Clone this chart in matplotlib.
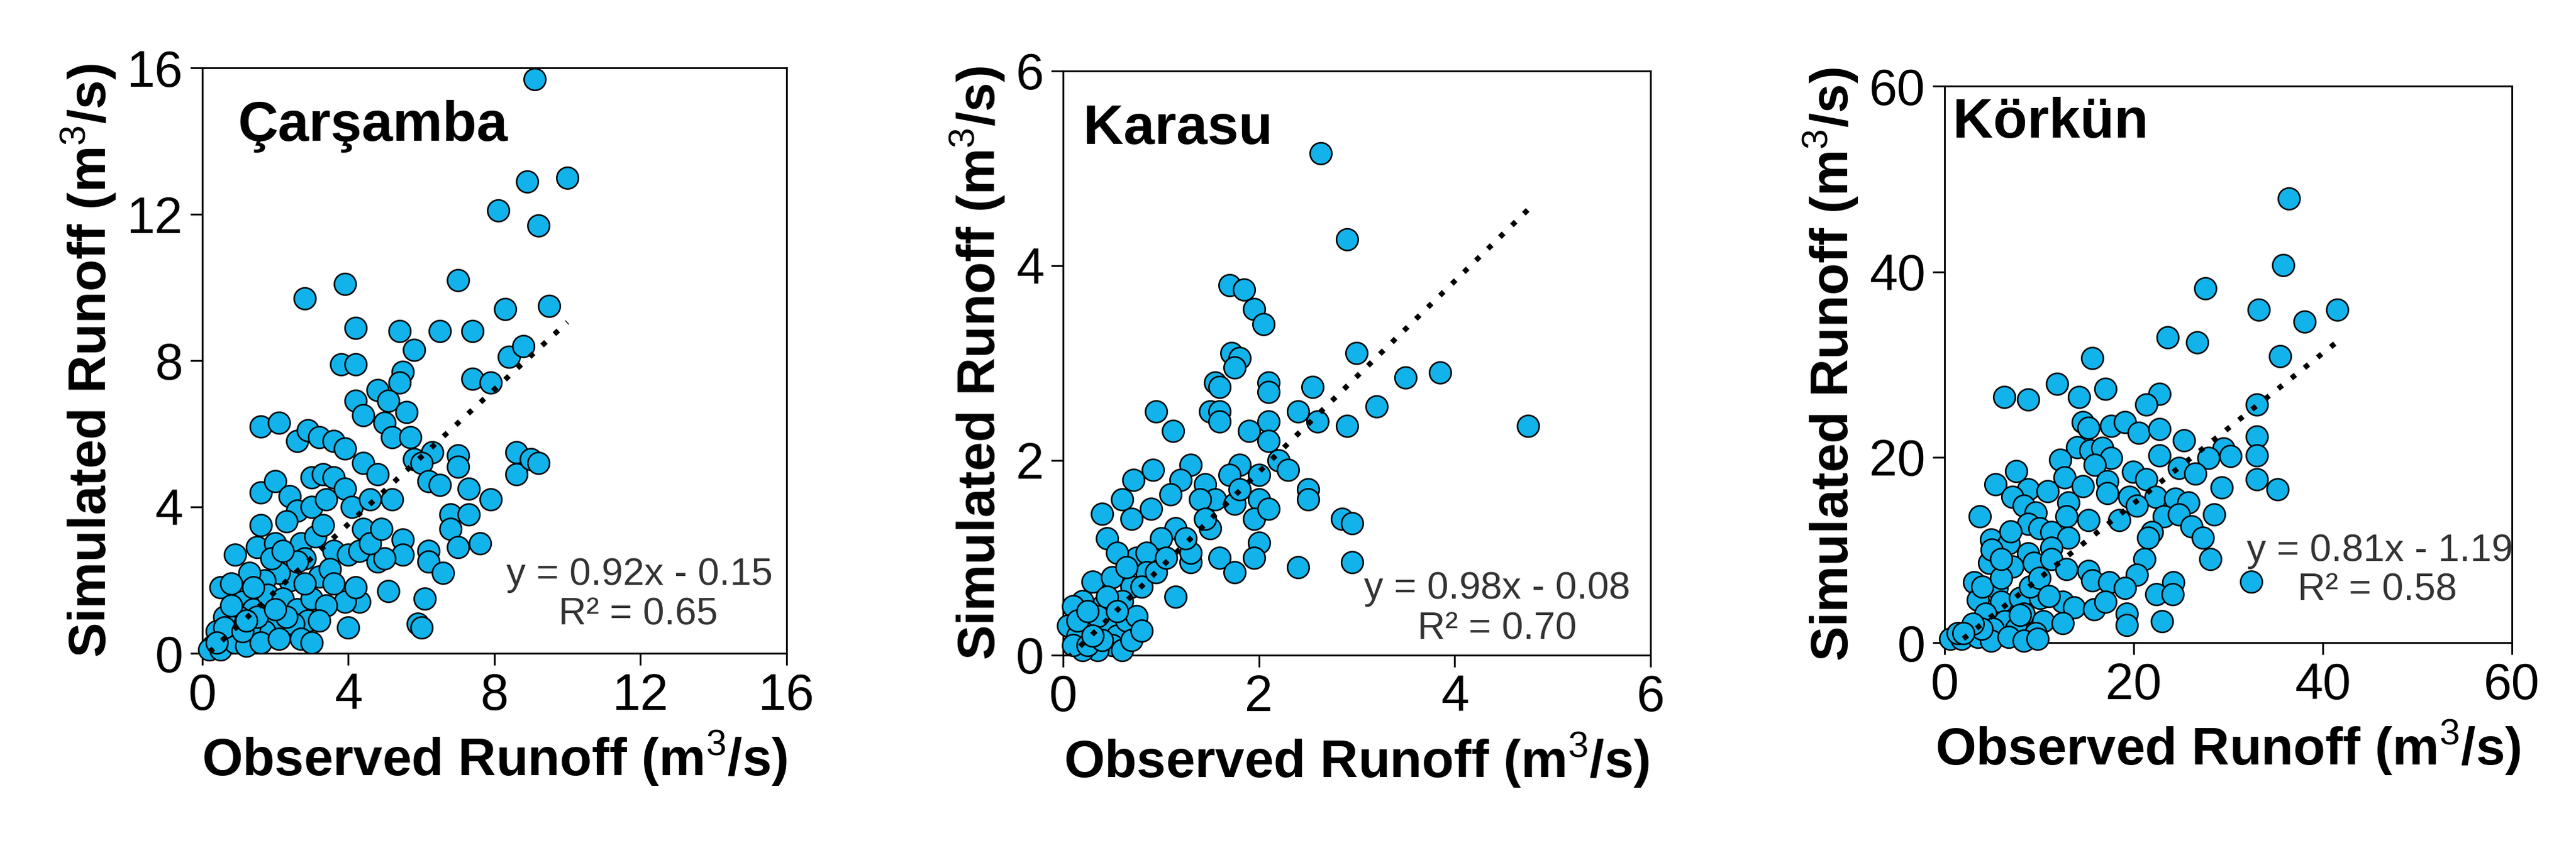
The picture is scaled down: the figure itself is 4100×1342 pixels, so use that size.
import numpy as np
import matplotlib
matplotlib.use("Agg")
import matplotlib.pyplot as plt

plt.rcParams['font.family'] = ['Liberation Sans', 'DejaVu Sans']
plt.rcParams['mathtext.fontset'] = 'custom'
plt.rcParams['mathtext.rm'] = 'Liberation Sans'
plt.rcParams['mathtext.bf'] = 'Liberation Sans:bold'

names = ["Çarşamba", "Karasu", "Körkün"]
equations = ["y = 0.92x - 0.15", "y = 0.98x - 0.08", "y = 0.81x - 1.19"]
r2_labels = ["R² = 0.65", "R² = 0.70", "R² = 0.58"]
slopes = [0.92, 0.98, 0.81]
intercepts = [-0.15, -0.08, -1.19]
axis_max = [16, 6, 60]
tick_vals = [[0, 4, 8, 12, 16], [0, 2, 4, 6], [0, 20, 40, 60]]

pts1 = [(9.1,15.7),(10,13),(8.9,12.9),(9.2,11.7),(8.1,12.1),(2.8,9.7),(3.9,10.1),(7.0,10.2),(8.3,9.4),(9.5,9.5),(4.2,8.9),(5.4,8.8),(6.5,8.8),(7.4,8.8),(5.8,8.3),(3.8,7.9),(4.2,7.9),(5.5,7.7),(5.4,7.4),(7.4,7.5),(7.9,7.4),(8.4,8.1),(8.8,8.4),(4.8,7.2),(5.1,6.9),(4.2,6.9),(4.4,6.5),(5.6,6.6),(5.0,6.3),(5.2,5.9),(5.7,5.9),(6.3,5.5),(5.8,5.3),(6.0,5.2),(7.0,5.4),(7.0,5.1),(8.6,5.5),(8.6,4.9),(9.0,5.3),(9.2,5.2),(1.6,6.2),(2.1,6.3),(2.6,5.8),(2.9,6.1),(3.2,5.9),(3.6,5.8),(3.9,5.6),(4.4,5.2),(4.8,4.9),(5.2,4.2),(6.2,4.7),(6.5,4.6),(7.3,4.5),(7.9,4.2),(6.8,3.8),(7.3,3.8),(6.8,3.4),(7.0,2.9),(7.6,3.0),(5.5,3.1),(5.5,2.7),(6.2,2.8),(6.2,2.5),(6.6,2.2),(6.1,1.5),(5.9,0.8),(6.0,0.7),(4.0,0.7),(1.6,4.4),(2.0,4.7),(2.4,4.3),(2.6,3.9),(3.0,4.8),(3.3,4.9),(3.6,4.8),(3.9,4.5),(4.1,4.0),(4.4,3.4),(4.6,4.2),(1.6,3.5),(1.5,2.9),(2.0,3.0),(2.3,3.6),(2.7,3.0),(3.1,3.2),(3.3,3.5),(3.6,2.8),(4.0,2.7),(4.3,2.8),(4.8,2.5),(5.0,2.6),(5.1,1.7),(4.3,1.4),(3.9,1.4),(4.2,1.8),(3.2,2.1),(2.8,2.6),(2.4,2.0),(2.1,2.2),(1.7,2.0),(1.3,2.2),(0.9,2.7),(0.5,1.8),(0.8,1.9),(1.1,1.4),(1.4,1.2),(1.8,1.6),(2.2,1.5),(2.6,1.2),(3.0,1.5),(3.4,1.3),(2.9,0.9),(2.5,0.8),(2.0,0.9),(1.7,0.6),(1.3,0.7),(1.0,1.0),(0.6,1.0),(0.4,0.6),(0.7,0.4),(0.3,0.2),(0.2,0.1),(0.5,0.1),(0.9,0.3),(1.2,0.2),(1.6,0.3),(2.1,0.4),(2.7,0.4),(3.0,0.3),(3.2,0.9),(3.5,2.3),(2.6,2.5),(1.9,2.6),(0.6,0.7),(1.1,0.6),(2.3,1.0),(2.8,1.9),(3.6,1.9),(4.6,3.0),(4.9,3.4),(1.4,1.8),(0.8,1.3),(0.4,0.3),(1.5,1.0),(2.0,1.2),(3.0,4.0),(3.4,4.2),(2.2,2.8),(1.2,0.9)]

pts2 = [(2.63,5.15),(2.9,4.27),(1.7,3.8),(1.85,3.75),(1.95,3.55),(2.05,3.4),(1.72,3.1),(1.8,3.05),(1.75,2.95),(1.55,2.8),(1.6,2.75),(2.1,2.8),(2.1,2.7),(1.5,2.5),(1.6,2.5),(1.6,2.4),(2.1,2.4),(2.55,2.75),(2.4,2.5),(2.6,2.4),(3.0,3.1),(3.5,2.85),(3.85,2.9),(3.2,2.55),(4.75,2.35),(2.9,2.35),(0.95,2.5),(1.12,2.3),(1.9,2.3),(2.1,2.2),(2.2,2.0),(1.8,1.95),(1.3,1.95),(1.2,1.8),(0.92,1.9),(0.72,1.8),(0.6,1.6),(0.7,1.4),(0.4,1.45),(0.45,1.2),(0.75,1.0),(0.9,1.5),(1.1,1.65),(1.45,1.75),(1.55,1.6),(1.7,1.85),(1.75,1.55),(2.0,1.6),(2.0,1.85),(2.3,1.9),(2.5,1.7),(2.5,1.6),(1.95,1.4),(2.1,1.5),(2.0,1.15),(1.5,1.3),(1.15,1.3),(1.4,1.6),(1.6,1.0),(1.95,1.0),(2.85,1.4),(2.95,1.35),(2.4,0.9),(2.95,0.95),(1.75,0.85),(1.3,0.95),(1.0,1.2),(0.85,1.05),(0.55,1.05),(0.85,0.85),(0.7,0.7),(1.15,0.6),(0.3,0.75),(0.5,0.8),(0.6,0.55),(0.4,0.5),(0.2,0.55),(0.1,0.5),(0.05,0.3),(0.15,0.2),(0.3,0.3),(0.45,0.3),(0.55,0.2),(0.65,0.35),(0.75,0.4),(0.5,0.1),(0.35,0.05),(0.2,0.05),(0.1,0.1),(0.25,0.1),(0.6,0.05),(0.8,0.7),(0.95,0.85),(1.3,1.05),(1.05,1.0),(0.65,0.9),(0.35,0.4),(0.15,0.35),(0.25,0.45),(0.4,0.15),(0.7,0.15),(0.3,0.2),(0.45,0.6),(1.45,1.4),(1.8,1.7),(1.25,1.2),(0.55,0.45),(0.8,0.25)]

pts3 = [(36.4,47.9),(35.8,40.7),(27.6,38.2),(33.2,35.9),(41.5,35.9),(38.1,34.6),(23.6,32.9),(26.7,32.4),(35.5,30.9),(15.6,30.7),(11.9,27.9),(17.0,27.4),(6.3,26.5),(8.8,26.2),(14.2,26.5),(22.7,26.8),(21.3,25.7),(33.0,25.7),(14.6,23.8),(15.2,23.2),(17.6,23.4),(19.1,23.8),(20.5,22.6),(22.7,23.0),(25.3,21.8),(33.0,22.2),(29.5,20.9),(30.2,20.1),(27.9,19.9),(33.0,20.2),(22.7,20.2),(14.0,21.1),(15.4,20.7),(16.7,21.0),(17.6,19.9),(15.9,19.2),(12.2,19.7),(7.6,18.5),(5.4,17.1),(12.7,17.8),(14.6,16.9),(17.2,17.4),(19.9,18.4),(21.3,17.6),(24.8,18.8),(26.5,18.2),(29.3,16.7),(33.0,17.6),(35.2,16.5),(8.8,16.5),(10.9,16.3),(7.2,15.7),(13.1,15.1),(17.2,16.1),(19.5,15.7),(22.3,15.7),(24.4,15.5),(25.8,15.1),(20.3,14.8),(8.4,14.8),(9.6,14.0),(12.9,13.6),(15.2,13.2),(18.5,13.2),(3.7,13.6),(23.2,13.6),(24.8,13.8),(28.5,13.8),(8.8,12.8),(10.0,12.3),(11.3,11.9),(13.1,11.3),(21.9,11.9),(26.1,12.5),(27.3,11.3),(21.5,11.3),(4.9,11.1),(6.8,10.7),(8.8,9.6),(11.3,10.2),(4.7,8.6),(7.2,8.2),(9.4,8.6),(11.3,9.0),(12.9,7.9),(15.2,7.7),(21.1,9.0),(20.3,7.3),(28.1,9.0),(15.6,6.7),(17.4,6.5),(19.1,5.9),(24.2,6.5),(22.4,5.2),(24.1,5.2),(32.4,6.6),(3.1,6.5),(5.5,5.9),(3.5,4.6),(6.0,4.4),(8.0,4.8),(10.1,4.8),(12.5,4.4),(13.7,3.8),(15.8,3.6),(17.0,4.4),(19.3,3.1),(19.3,1.9),(23.0,2.3),(4.3,3.1),(6.4,2.3),(8.4,3.1),(10.4,2.3),(12.5,2.1),(3.1,1.9),(5.1,1.5),(7.6,1.5),(9.6,1.0),(0.6,0.4),(1.8,0.4),(3.5,0.6),(4.9,0.2),(6.8,0.6),(8.4,0.2),(9.8,0.4),(1.4,1.0),(3.9,1.5),(4.0,6.0),(6.0,7.0),(5.0,10.0),(7.0,12.0),(9.0,6.0),(10.0,7.0),(11.0,5.0),(8.0,3.0),(6.0,9.0),(3.0,2.0),(2.0,1.0)]

datasets = [pts1, pts2, pts3]

positions = [
    [0.0785, 0.225, 0.2268, 0.6945],
    [0.4127, 0.223, 0.2280, 0.6930],
    [0.7549, 0.2377, 0.2202, 0.6600],
]
title_pos = [(0.061, 0.90), (0.034, 0.90), (0.014, 0.934)]
eq_pos = [(0.976, 0.134), (0.966, 0.113), (1.002, 0.164)]
r2_pos = [(0.746, 0.065), (0.739, 0.044), (0.763, 0.094)]

fig = plt.figure(figsize=(41, 13.42), dpi=100)
for i in range(3):
    ax = fig.add_axes(positions[i])
    arr = np.array(datasets[i])
    x, y = arr[:, 0], arr[:, 1]
    ax.scatter(x, y, s=620, c='#12b3ea', edgecolors='black', linewidths=1.8, zorder=3, clip_on=False)
    xl = np.linspace(x.min(), x.max(), 50)
    ax.plot(xl, slopes[i] * xl + intercepts[i], linestyle=(0, (1, 2.2)), color='black', lw=6, zorder=4)
    m = axis_max[i]
    ax.set_xlim(0, m)
    ax.set_ylim(0, m)
    ax.set_xticks(tick_vals[i])
    ax.set_yticks(tick_vals[i])
    ax.tick_params(direction='out', length=14, width=2, labelsize=58, pad=8)
    for sp in ax.spines.values():
        sp.set_linewidth(2)
    ax.set_xlabel('Observed Runoff (m$^3$/s)', fontsize=60, fontweight='bold', labelpad=10)
    ax.set_ylabel('Simulated Runoff (m$^3$/s)', fontsize=60, fontweight='bold', labelpad=10)
    ax.text(title_pos[i][0], title_pos[i][1], names[i], transform=ax.transAxes,
            fontsize=64, fontweight='bold', ha='left', va='center', zorder=6)
    ax.text(eq_pos[i][0], eq_pos[i][1], equations[i], transform=ax.transAxes,
            fontsize=44, ha='right', va='center', color='#333333', zorder=5)
    ax.text(r2_pos[i][0], r2_pos[i][1], r2_labels[i], transform=ax.transAxes,
            fontsize=44, ha='center', va='center', color='#333333', zorder=5)

fig.savefig('out.png', dpi=100)
